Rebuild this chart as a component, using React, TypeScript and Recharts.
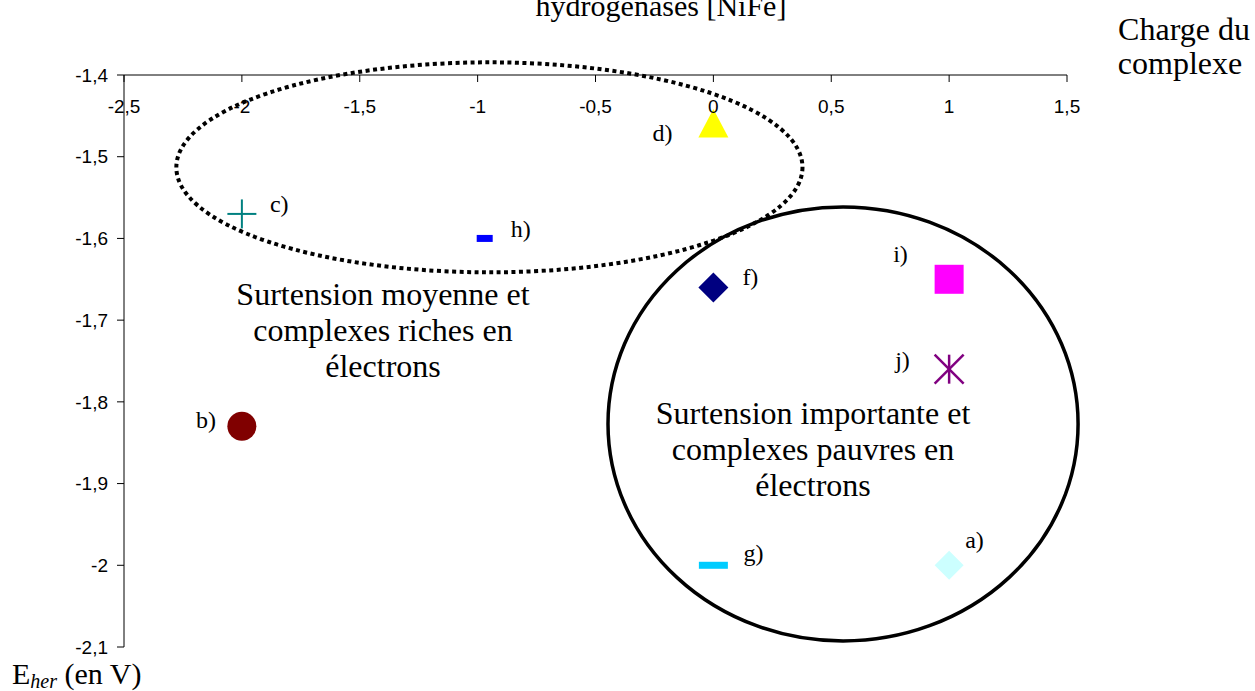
import React from 'react';
import { ScatterChart, Scatter, XAxis, YAxis, ReferenceDot } from 'recharts';

// ---------- data ----------
const xTicks = [-2.5, -2, -1.5, -1, -0.5, 0, 0.5, 1, 1.5];
const yTicks = [-2.1, -2, -1.9, -1.8, -1.7, -1.6, -1.5, -1.4];

type Pt = { x: number; y: number; label: string };
const pointA: Pt[] = [{ x: 1, y: -2.0, label: 'a)' }];
const pointB: Pt[] = [{ x: -2, y: -1.83, label: 'b)' }];
const pointC: Pt[] = [{ x: -2, y: -1.57, label: 'c)' }];
const pointD: Pt[] = [{ x: 0, y: -1.46, label: 'd)' }];
const pointF: Pt[] = [{ x: 0, y: -1.66, label: 'f)' }];
const pointG: Pt[] = [{ x: 0, y: -2.0, label: 'g)' }];
const pointH: Pt[] = [{ x: -0.97, y: -1.6, label: 'h)' }];
const pointI: Pt[] = [{ x: 1, y: -1.65, label: 'i)' }];
const pointJ: Pt[] = [{ x: 1, y: -1.76, label: 'j)' }];

// zones (in data units)
const zoneMoyenne = { cx: -0.95, cy: -1.513, rx: 1.328, ry: 0.1285 };
const zoneImportante = { cx: 0.55, cy: -1.827, rx: 0.997, ry: 0.2656 };

const textMoyenne = ['Surtension moyenne et', 'complexes riches en', 'électrons'];
const textImportante = ['Surtension importante et', 'complexes pauvres en', 'électrons'];

// ---------- layout ----------
const W = 1255;
const H = 691;
const PLOT = { left: 124, top: 75, right: 1067, bottom: 647 };
const PX_X = (PLOT.right - PLOT.left) / 4;
const PX_Y = (PLOT.bottom - PLOT.top) / 0.7;

const SERIF = '"Liberation Serif", "Times New Roman", serif';
const SANS = '"Liberation Sans", Arial, sans-serif';

const fmt = (v: number) => String(Math.round(v * 10) / 10).replace('.', ',');

const labelStyle = { fontFamily: SERIF, fontSize: 24, fill: '#000' };

type LabelOff = { dx: number; dy: number };

const withLabel = (marker: (cx: number, cy: number) => React.ReactNode, off: LabelOff) =>
  (props: any) => {
    const { cx, cy, payload } = props;
    return (
      <g>
        {marker(cx, cy)}
        <text x={cx + off.dx} y={cy + off.dy} {...labelStyle}>{payload.label}</text>
      </g>
    );
  };

const diamond = (fill: string, r: number) => (cx: number, cy: number) => (
  <polygon points={`${cx},${cy - r} ${cx + r},${cy} ${cx},${cy + r} ${cx - r},${cy}`} fill={fill} />
);
const circle = (fill: string, r: number) => (cx: number, cy: number) => (
  <circle cx={cx} cy={cy} r={r} fill={fill} />
);
const plus = (stroke: string, r: number) => (cx: number, cy: number) => (
  <g stroke={stroke} strokeWidth={2}>
    <line x1={cx - r} y1={cy} x2={cx + r} y2={cy} />
    <line x1={cx} y1={cy - r} x2={cx} y2={cy + r} />
  </g>
);
const triangle = (fill: string, r: number) => (cx: number, cy: number) => (
  <polygon points={`${cx},${cy - r} ${cx + r},${cy + r * 0.9} ${cx - r},${cy + r * 0.9}`} fill={fill} />
);
const dash = (fill: string, w: number, h: number) => (cx: number, cy: number) => (
  <rect x={cx - w / 2} y={cy - h / 2} width={w} height={h} fill={fill} />
);
const square = (fill: string, r: number) => (cx: number, cy: number) => (
  <rect x={cx - r} y={cy - r} width={2 * r} height={2 * r} fill={fill} />
);
const star = (stroke: string, r: number) => (cx: number, cy: number) => (
  <g stroke={stroke} strokeWidth={2.5}>
    <line x1={cx} y1={cy - r} x2={cx} y2={cy + r} />
    <line x1={cx - r} y1={cy - r} x2={cx + r} y2={cy + r} />
    <line x1={cx - r} y1={cy + r} x2={cx + r} y2={cy - r} />
  </g>
);

const ellipseShape = (rx: number, ry: number, dotted: boolean) => (props: any) => (
  <ellipse
    cx={props.cx}
    cy={props.cy}
    rx={rx * PX_X}
    ry={ry * PX_Y}
    fill="none"
    stroke="#000"
    strokeWidth={dotted ? 4 : 3.5}
    strokeDasharray={dotted ? '4 3.5' : undefined}
  />
);

export default function App() {
  const tickStyle = { fill: '#000', fontSize: 19, fontFamily: SANS };
  return (
    <div style={{ position: 'absolute', left: 0, top: 0, width: W, height: H, background: '#fff' }}>
      <ScatterChart
        width={W}
        height={H}
        margin={{ top: PLOT.top, right: W - PLOT.right, bottom: H - PLOT.bottom, left: PLOT.left - 60 }}
      >
        <XAxis
          type="number"
          dataKey="x"
          domain={[-2.5, 1.5]}
          ticks={xTicks}
          orientation="top"
          mirror
          interval={0}
          tickSize={7}
          tickMargin={18}
          tickFormatter={fmt}
          axisLine={{ stroke: '#000' }}
          tickLine={{ stroke: '#000' }}
          tick={tickStyle}
          allowDataOverflow
        />
        <YAxis
          type="number"
          dataKey="y"
          domain={[-2.1, -1.4]}
          ticks={yTicks}
          width={60}
          interval={0}
          tickSize={7}
          tickMargin={9}
          tickFormatter={fmt}
          axisLine={{ stroke: '#000' }}
          tickLine={{ stroke: '#000' }}
          tick={tickStyle}
          allowDataOverflow
        />
        <ReferenceDot x={zoneMoyenne.cx} y={zoneMoyenne.cy} shape={ellipseShape(zoneMoyenne.rx, zoneMoyenne.ry, true)} />
        <ReferenceDot x={zoneImportante.cx} y={zoneImportante.cy} shape={ellipseShape(zoneImportante.rx, zoneImportante.ry, false)} />

        <Scatter data={pointA} isAnimationActive={false} shape={withLabel(diamond('#CCFFFF', 14.5), { dx: 16, dy: -17 })} />
        <Scatter data={pointB} isAnimationActive={false} shape={withLabel(circle('#800000', 14.5), { dx: -46, dy: 2 })} />
        <Scatter data={pointC} isAnimationActive={false} shape={withLabel(plus('#008080', 14.5), { dx: 28, dy: -2 })} />
        <Scatter data={pointD} isAnimationActive={false} shape={withLabel(triangle('#FFFF00', 15), { dx: -61, dy: 17 })} />
        <Scatter data={pointF} isAnimationActive={false} shape={withLabel(diamond('#000080', 15), { dx: 29, dy: -2 })} />
        <Scatter data={pointG} isAnimationActive={false} shape={withLabel(dash('#00CCFF', 29, 7), { dx: 30, dy: -4 })} />
        <Scatter data={pointH} isAnimationActive={false} shape={withLabel(dash('#0000FF', 16, 7), { dx: 26, dy: -1 })} />
        <Scatter data={pointI} isAnimationActive={false} shape={withLabel(square('#FF00FF', 14.5), { dx: -56, dy: -17 })} />
        <Scatter data={pointJ} isAnimationActive={false} shape={withLabel(star('#800080', 14.5), { dx: -54, dy: -1 })} />

        <g>
          <text x={661} y={16} textAnchor="middle" fontFamily={SERIF} fontSize={30} fill="#000">
            hydrogenases [NiFe]
          </text>
          <text x={1184} y={40} textAnchor="middle" fontFamily={SERIF} fontSize={32} fill="#000">
            Charge du
          </text>
          <text x={1180} y={74} textAnchor="middle" fontFamily={SERIF} fontSize={32} fill="#000">
            complexe
          </text>
          <text x={12} y={684} fontFamily={SERIF} fontSize={30} fill="#000">
            E<tspan fontStyle="italic" fontSize={20} dy={4}>her</tspan>
            <tspan dy={-4}> (en V)</tspan>
          </text>
          {textMoyenne.map((t, i) => (
            <text key={t} x={383} y={305 + i * 36} textAnchor="middle" fontFamily={SERIF} fontSize={32} fill="#000">
              {t}
            </text>
          ))}
          {textImportante.map((t, i) => (
            <text key={t} x={813} y={424 + i * 36} textAnchor="middle" fontFamily={SERIF} fontSize={32} fill="#000">
              {t}
            </text>
          ))}
        </g>
      </ScatterChart>
    </div>
  );
}
